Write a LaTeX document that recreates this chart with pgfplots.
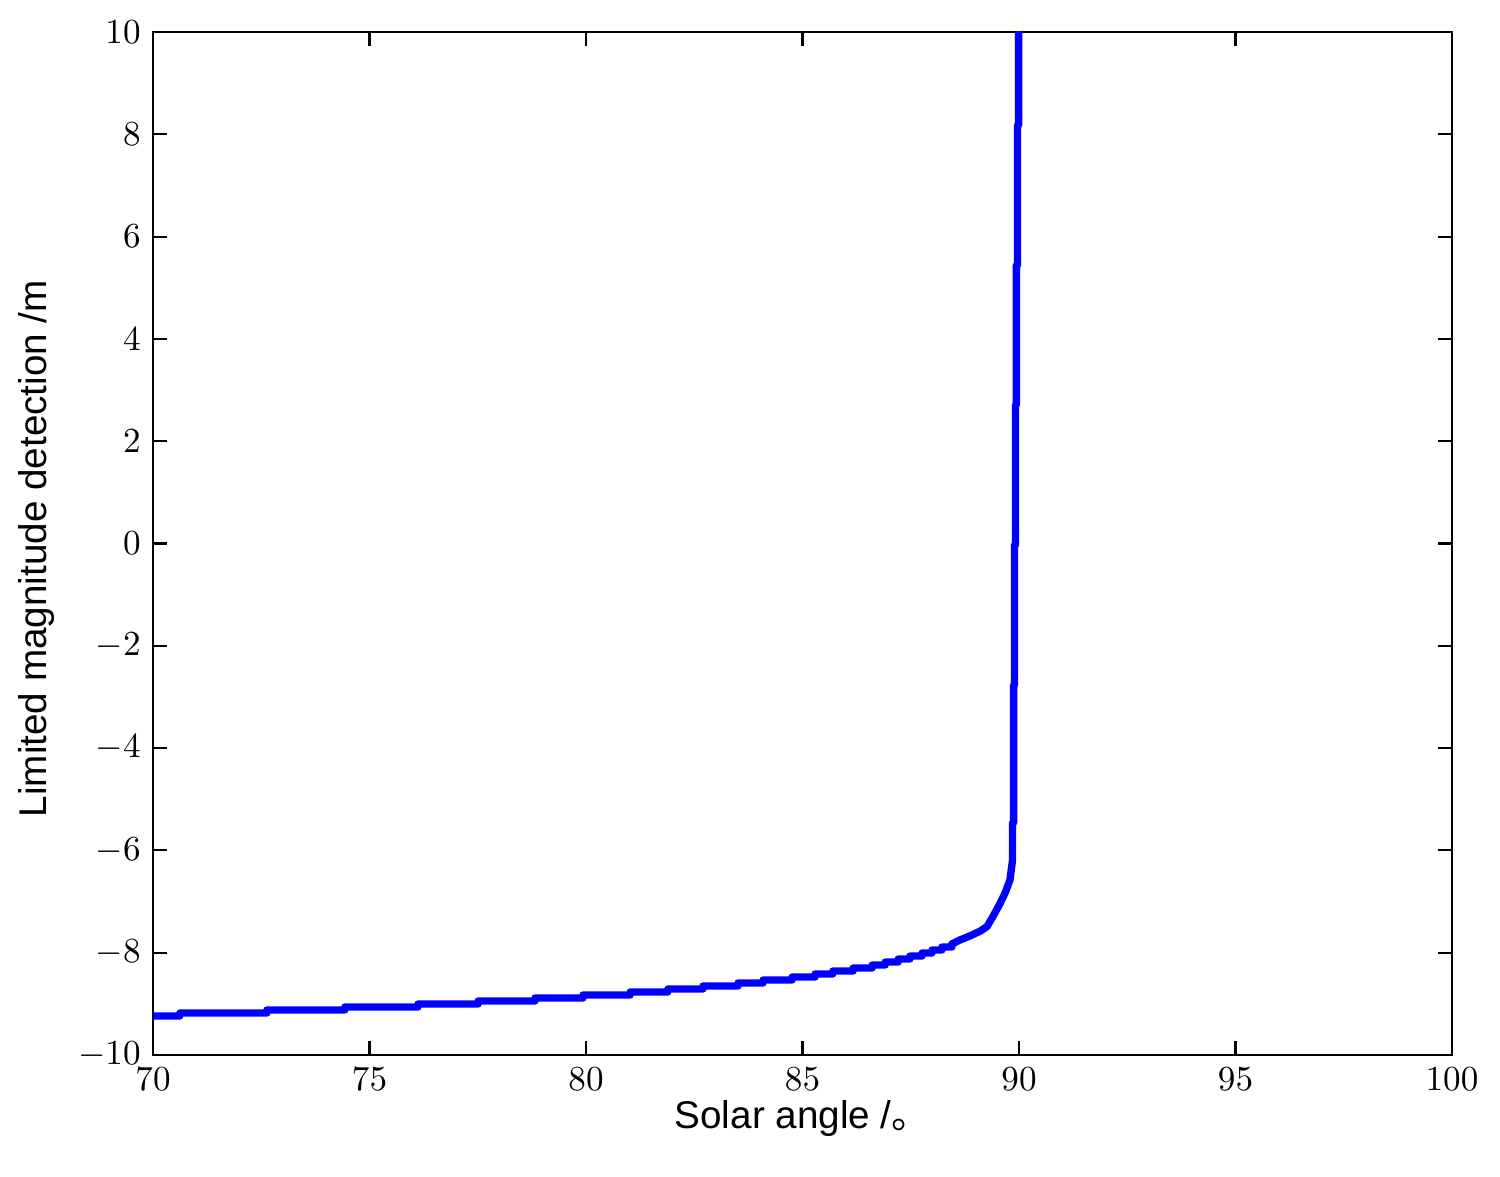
\documentclass[border=0pt]{standalone}
\usepackage{pgfplots}
\pgfplotsset{compat=1.18}
\usepackage{fontspec}
\newfontfamily\labelfont{Liberation Sans}
\newfontfamily\cjk{Noto Sans CJK SC}
\begin{document}
\begin{tikzpicture}
\begin{axis}[
  scale only axis,
  width=12.99cm, height=10.23cm,
  xmin=70, xmax=100, ymin=-10, ymax=10,
  xtick={70,75,...,100},
  ytick={-10,-8,...,10},
  tick align=inside,
  major tick length=0.14cm,
  axis line style={line width=0.6pt},
  every tick/.style={line width=0.6pt, black},
  xlabel={\labelfont\fontsize{11}{13}\selectfont Solar angle /{\cjk 。}},
  ylabel={\labelfont\fontsize{11}{13}\selectfont Limited magnitude detection /m},
  xlabel style={at={(axis description cs:0.5,-0.0715)}, anchor=base},
  ylabel style={at={(axis description cs:-0.0816,0.495)}, anchor=base, rotate=0},
  clip=true,
]
\addplot[color={rgb,255:red,0;green,0;blue,255}, line width=2.1pt, line join=round] coordinates {
(70.00,-9.237) (70.62,-9.237) (70.62,-9.179) (72.63,-9.179) (72.63,-9.120)
(74.43,-9.120) (74.43,-9.062) (76.12,-9.062) (76.12,-9.003) (77.51,-9.003)
(77.51,-8.944) (78.82,-8.944) (78.82,-8.886) (79.93,-8.886) (79.93,-8.827)
(81.02,-8.827) (81.02,-8.768) (81.89,-8.768) (81.89,-8.710) (82.70,-8.710)
(82.70,-8.651) (83.51,-8.651) (83.51,-8.592) (84.09,-8.592) (84.09,-8.534)
(84.76,-8.534) (84.76,-8.475) (85.29,-8.475) (85.29,-8.416) (85.70,-8.416)
(85.70,-8.358) (86.17,-8.358) (86.17,-8.299) (86.61,-8.299) (86.61,-8.240)
(86.91,-8.240) (86.91,-8.182) (87.21,-8.182) (87.21,-8.123) (87.48,-8.123)
(87.48,-8.065) (87.76,-8.065) (87.76,-8.006) (87.99,-8.006) (87.99,-7.947)
(88.22,-7.947) (88.22,-7.889) (88.45,-7.889) (88.45,-7.830)
(88.64,-7.75) (88.87,-7.67) (89.10,-7.58) (89.26,-7.49) (89.38,-7.32)
(89.56,-7.04) (89.68,-6.83) (89.79,-6.58) (89.85,-6.19)
(89.85,-5.46) (89.875,-5.46) (89.875,-2.77) (89.895,-2.77) (89.895,-0.03)
(89.92,-0.03) (89.92,2.71) (89.94,2.71) (89.94,5.44) (89.965,5.44)
(89.965,8.18) (89.99,8.18) (89.99,10.5)
};
\end{axis}
\path (current axis.south west) ++(-1.53cm,-1.21cm) coordinate (bbA);
\path (current axis.north east) ++(0.48cm,0.32cm) coordinate (bbB);
\path (bbA) rectangle (bbB);
\end{tikzpicture}
\end{document}
